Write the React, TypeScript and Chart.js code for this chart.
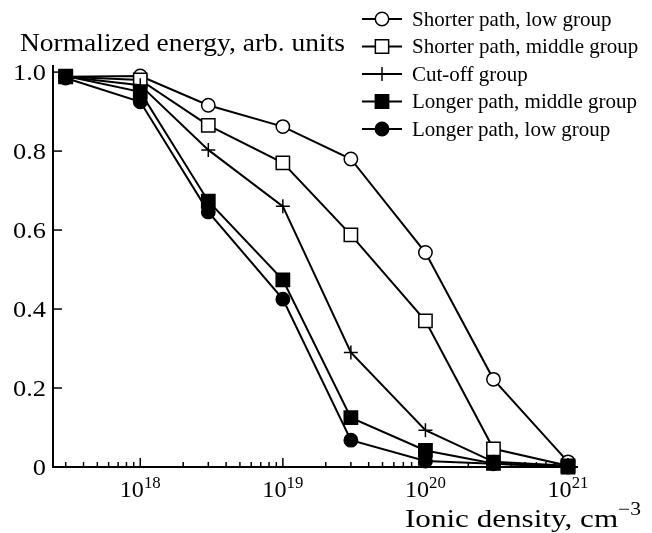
import React, { useEffect, useRef } from 'react';
import { Chart, registerables } from 'chart.js';

Chart.register(...registerables);

// Ionic density (cm^-3)
const densities = [3e17, 1e18, 3e18, 1e19, 3e19, 1e20, 3e20, 1e21];

const shorterLow = [0.988, 0.99, 0.916, 0.862, 0.78, 0.543, 0.222, 0.013];
const shorterMiddle = [0.988, 0.98, 0.865, 0.77, 0.588, 0.37, 0.046, 0.003];
const cutoffGroup = [0.988, 0.967, 0.803, 0.66, 0.29, 0.093, 0.013, 0.003];
const longerMiddle = [0.99, 0.95, 0.673, 0.474, 0.125, 0.042, 0.009, 0.0];
const longerLow = [0.985, 0.925, 0.646, 0.425, 0.068, 0.015, 0.008, 0.0];

const seriesLabels = [
  'Shorter path, low group',
  'Shorter path, middle group',
  'Cut-off group',
  'Longer path, middle group',
  'Longer path, low group',
];

const yTickValues = [0, 0.2, 0.4, 0.6, 0.8, 1.0];
const yTickLabels = ['0', '0.2', '0.4', '0.6', '0.8', '1.0'];
const xMajorExponents = [18, 19, 20, 21];

const yTitle = 'Normalized energy, arb. units';
const xTitleBase = 'Ionic density, cm';
const xTitleSup = '\u22123';

const FONT = "'Liberation Serif', 'Times New Roman', serif";

type Marker = { style: string; fill: string; r: number };
const markers: Marker[] = [
  { style: 'circle', fill: '#ffffff', r: 6.7 },
  { style: 'rect', fill: '#ffffff', r: 9.4 },
  { style: 'cross', fill: '#000000', r: 7 },
  { style: 'rect', fill: '#000000', r: 9.4 },
  { style: 'circle', fill: '#000000', r: 6.7 },
];

function drawMarker(ctx: CanvasRenderingContext2D, m: Marker, x: number, y: number) {
  ctx.save();
  ctx.lineWidth = 1.5;
  ctx.strokeStyle = '#000';
  ctx.fillStyle = m.fill;
  ctx.beginPath();
  if (m.style === 'circle') {
    ctx.arc(x, y, m.r, 0, Math.PI * 2);
    ctx.fill();
    ctx.stroke();
  } else if (m.style === 'rect') {
    const s = Math.SQRT1_2 * m.r;
    ctx.rect(x - s, y - s, 2 * s, 2 * s);
    ctx.fill();
    ctx.stroke();
  } else {
    ctx.moveTo(x - m.r, y);
    ctx.lineTo(x + m.r, y);
    ctx.moveTo(x, y - m.r);
    ctx.lineTo(x, y + m.r);
    ctx.stroke();
  }
  ctx.restore();
}

// draws text horizontally widened by factor sx, starting at x (left aligned)
function wideText(ctx: CanvasRenderingContext2D, text: string, x: number, y: number, size: number, sx: number) {
  ctx.save();
  ctx.font = `${size}px ${FONT}`;
  ctx.textAlign = 'left';
  ctx.translate(x, y);
  ctx.scale(sx, 1);
  ctx.fillText(text, 0, 0);
  ctx.restore();
}
function textW(ctx: CanvasRenderingContext2D, text: string, size: number, sx: number) {
  ctx.save();
  ctx.font = `${size}px ${FONT}`;
  const w = ctx.measureText(text).width * sx;
  ctx.restore();
  return w;
}

const decorPlugin = {
  id: 'decor',
  afterDatasetsDraw(chart: any) {
    const { ctx, chartArea } = chart;
    const xs = chart.scales.x;
    const ys = chart.scales.y;
    ctx.save();
    ctx.strokeStyle = '#000';
    ctx.fillStyle = '#000';

    // axis lines
    ctx.lineWidth = 2;
    ctx.beginPath();
    ctx.moveTo(chartArea.left, chartArea.top);
    ctx.lineTo(chartArea.left, chartArea.bottom);
    ctx.lineTo(chartArea.right, chartArea.bottom);
    ctx.stroke();

    // x ticks (inward)
    ctx.lineWidth = 1.5;
    for (let e = 17; e <= 21; e++) {
      for (let m = 1; m <= 9; m++) {
        const v = m * Math.pow(10, e);
        if (v < xs.min || v > xs.max) continue;
        const px = xs.getPixelForValue(v);
        const len = m === 1 ? 9 : 5;
        ctx.beginPath();
        ctx.moveTo(px, chartArea.bottom);
        ctx.lineTo(px, chartArea.bottom - len);
        ctx.stroke();
      }
    }
    // y ticks (inward)
    yTickValues.forEach((v) => {
      if (v === 0) return;
      const py = ys.getPixelForValue(v);
      ctx.beginPath();
      ctx.moveTo(chartArea.left, py);
      ctx.lineTo(chartArea.left + 9, py);
      ctx.stroke();
    });

    // y labels
    ctx.textBaseline = 'alphabetic';
    const ySx = 1.1;
    yTickValues.forEach((v, i) => {
      const py = ys.getPixelForValue(v);
      const w = textW(ctx, yTickLabels[i], 24, ySx);
      wideText(ctx, yTickLabels[i], chartArea.left - 7 - w, py + 8, 24, ySx);
    });

    // x labels: 10^n
    const xSx = 1.05;
    xMajorExponents.forEach((e) => {
      const px = xs.getPixelForValue(Math.pow(10, e));
      const wBase = textW(ctx, '10', 23, xSx);
      const wSup = textW(ctx, String(e), 16, xSx);
      const start = px - (wBase + wSup) / 2;
      wideText(ctx, '10', start, 497, 23, xSx);
      wideText(ctx, String(e), start + wBase, 488, 16, xSx);
    });

    // y title
    const tW = textW(ctx, yTitle, 26, 1);
    wideText(ctx, yTitle, 20, 51, 26, 325 / tW);

    // x title
    const xStart = 405;
    const xEnd = 641;
    const rawW = textW(ctx, xTitleBase, 26, 1) + textW(ctx, xTitleSup, 18, 1);
    const xSxT = (xEnd - xStart) / rawW;
    const wx = textW(ctx, xTitleBase, 26, xSxT);
    wideText(ctx, xTitleBase, xStart, 527, 26, xSxT);
    wideText(ctx, xTitleSup, xStart + wx, 515, 18, xSxT);

    // legend
    const rowY0 = 19;
    const rowStep = 27.5;
    chart.data.datasets.forEach((ds: any, i: number) => {
      const yy = rowY0 + i * rowStep;
      ctx.lineWidth = 2;
      ctx.strokeStyle = '#000';
      ctx.beginPath();
      ctx.moveTo(362, yy);
      ctx.lineTo(402, yy);
      ctx.stroke();
      drawMarker(ctx, markers[i], 382, yy);
      ctx.fillStyle = '#000';
      ctx.font = `21px ${FONT}`;
      ctx.textAlign = 'left';
      ctx.textBaseline = 'middle';
      ctx.fillText(ds.label, 412, yy + 1);
    });

    ctx.restore();
  },
};

export default function App() {
  const canvasRef = useRef<HTMLCanvasElement | null>(null);

  useEffect(() => {
    const canvas = canvasRef.current;
    if (!canvas) return;
    const allSeries = [shorterLow, shorterMiddle, cutoffGroup, longerMiddle, longerLow];
    const orders = [5, 4, 3, 2, 1];
    const datasets = allSeries.map((vals, i) => ({
      label: seriesLabels[i],
      data: densities.map((d, j) => ({ x: d, y: vals[j] })),
      borderColor: '#000',
      borderWidth: 2,
      backgroundColor: markers[i].fill,
      pointStyle: markers[i].style,
      pointRadius: markers[i].r,
      pointBorderWidth: 1.5,
      pointBorderColor: '#000',
      pointBackgroundColor: markers[i].fill,
      showLine: true,
      fill: false,
      tension: 0,
      clip: false,
      order: orders[i],
    }));

    const chart = new Chart(canvas, {
      type: 'scatter',
      data: { datasets },
      options: {
        animation: false,
        responsive: false,
        maintainAspectRatio: false,
        layout: { padding: { left: 53, top: 65, right: 74, bottom: 66 } },
        plugins: {
          legend: { display: false },
          tooltip: { enabled: false },
          title: { display: false },
        },
        scales: {
          x: {
            type: 'logarithmic',
            display: false,
            min: Math.pow(10, 17.388),
            max: Math.pow(10, 21.07),
          },
          y: {
            type: 'linear',
            display: false,
            min: 0,
            max: 1.018,
          },
        },
      },
      plugins: [decorPlugin],
    });
    return () => chart.destroy();
  }, []);

  return (
    <div style={{ position: 'fixed', left: 0, top: 0, width: 652, height: 533, background: '#fff' }}>
      <canvas ref={canvasRef} width={652} height={533} style={{ width: 652, height: 533 }} />
    </div>
  );
}
